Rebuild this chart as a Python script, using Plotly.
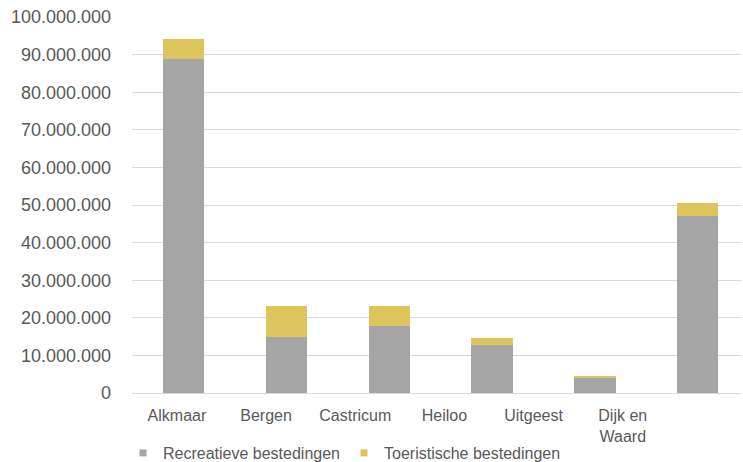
import plotly.graph_objects as go

# gemeenten en bestedingen (euro)
gemeenten = ["Alkmaar", "Bergen", "Castricum", "Heiloo", "Uitgeest", "Dijk en<br>Waard"]
recreatief = [88_900_000, 14_900_000, 17_700_000, 12_900_000, 4_000_000, 47_100_000]
toeristisch = [5_300_000, 8_200_000, 5_500_000, 1_600_000, 500_000, 3_400_000]

GRIJS = "#a5a5a5"
GEEL = "#dec45c"
TEKST = "#595959"
FONT = "Arial, Liberation Sans, sans-serif"

idx = list(range(len(gemeenten)))

fig = go.Figure()
fig.add_trace(go.Bar(x=idx, y=recreatief, name="Recreatieve bestedingen",
                     marker=dict(color=GRIJS, line=dict(width=0)), width=0.4,
                     showlegend=False))
fig.add_trace(go.Bar(x=idx, y=toeristisch, name="Toeristische bestedingen",
                     marker=dict(color=GEEL, line=dict(width=0)), width=0.4,
                     showlegend=False))
# onzichtbare trace zodat de categorie-as getekend wordt
fig.add_trace(go.Scatter(x=idx, y=[0] * len(idx), xaxis="x2", mode="markers",
                         marker=dict(opacity=0), hoverinfo="skip", showlegend=False))
# legenda-items
for naam, kleur in [("Recreatieve bestedingen", GRIJS), ("Toeristische bestedingen", GEEL)]:
    fig.add_trace(go.Scatter(x=[None], y=[None], mode="markers", name=naam,
                             marker=dict(symbol="square", size=7, color=kleur)))

fig.update_layout(
    width=743, height=462,
    barmode="stack",
    separators=",.",
    plot_bgcolor="white", paper_bgcolor="white",
    margin=dict(l=132, r=2, t=17, b=69, autoexpand=False),
    font=dict(family=FONT, color=TEKST, size=16),
    xaxis=dict(range=[-0.5, 5.42], showticklabels=False, showgrid=False,
               showline=True, linecolor="#d9d9d9", ticks="", zeroline=False,
               automargin=False),
    xaxis2=dict(overlaying="x", anchor="y", side="bottom", range=[-0.504, 6.326],
                tickvals=idx, ticktext=gemeenten, showgrid=False, showline=False,
                ticks="", zeroline=False, ticklabelstandoff=11, automargin=False,
                tickfont=dict(size=16, color=TEKST)),
    yaxis=dict(range=[0, 100_000_000], dtick=10_000_000, tickformat=",d",
               gridcolor="#d9d9d9", gridwidth=1, zeroline=False, ticks="",
               ticklabelstandoff=20, automargin=False,
               tickfont=dict(size=18, color=TEKST)),
    legend=dict(orientation="h", xref="container", yref="container",
                x=123 / 743, y=(462 - 453) / 462, xanchor="left", yanchor="middle",
                entrywidth=176, traceorder="normal",
                font=dict(size=16, color=TEKST), itemsizing="trace"),
)

# geen standaard body-marge van de pagina
fig.write_html("out.html", config={"displayModeBar": False},
               post_script="document.body.style.margin='0';")
